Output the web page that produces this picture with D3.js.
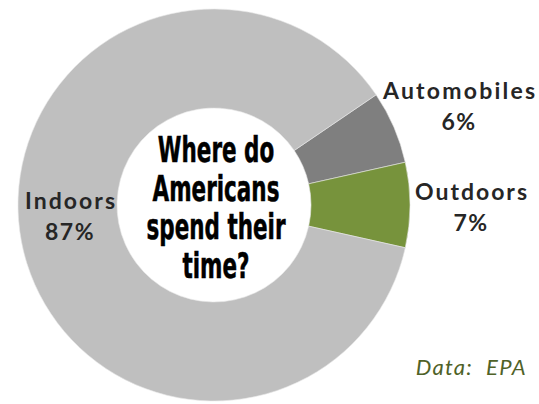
<!DOCTYPE html>
<html lang="en">
<head>
	<meta charset="utf-8"/>
	<title>Where do Americans spend their time?</title>
	<script src="https://d3js.org/d3.v7.min.js" charset="utf-8"></script>
	<style>
		body { margin: 0; background: #fff; }
		.label { font-family: Lato, "Open Sans", sans-serif; font-weight: 700; fill: #262626; }
		.title { font-family: "Liberation Sans Narrow", "DejaVu Sans Condensed", sans-serif; font-weight: 700; fill: #000; stroke: #000; stroke-width: 0.5; }
		.source { font-family: Lato, "Open Sans", sans-serif; font-style: italic; fill: #4f6228; }
	</style>
</head>
<body>
<div id="chart"></div>

<script>
	// data
	var categories = ["Automobiles", "Outdoors", "Indoors"];
	var shares = [6, 7, 87];
	var colors = ["#7f7f7f", "#77933c", "#bfbfbf"];
	var titleLines = ["Where do", "Americans", "spend their", "time?"];

	var width = 539,
		height = 404,
		cx = 214, cy = 205,
		outer = 196, inner = 97;

	var svg = d3.select("#chart").append("svg")
		.attr("width", width)
		.attr("height", height);

	var g = svg.append("g")
		.attr("transform", "translate(" + cx + "," + cy + ")");

	// automobiles starts ~34 degrees above the horizontal
	var start = (90 - 34.2) * Math.PI / 180;

	var pie = d3.pie()
		.sort(null)
		.startAngle(start)
		.endAngle(start + 2 * Math.PI);

	var arc = d3.arc()
		.innerRadius(inner)
		.outerRadius(outer);

	g.selectAll("path")
		.data(pie(shares))
		.enter().append("path")
		.attr("d", arc)
		.attr("fill", function(d, i) { return colors[i]; })
		.attr("stroke", "#e8e8e8")
		.attr("stroke-width", 0.6);

	// slice labels (position + first line width)
	var labelPos = [[459, 99, 152], [471, 200, 112], [70, 209, 90]];
	var lbl = svg.selectAll(".label")
		.data(categories)
		.enter().append("text")
		.attr("class", "label")
		.attr("text-anchor", "middle")
		.attr("font-size", 23)
		.attr("x", function(d, i) { return labelPos[i][0]; })
		.attr("y", function(d, i) { return labelPos[i][1]; });

	lbl.append("tspan")
		.attr("textLength", function(d, i) { return labelPos[i][2]; })
		.attr("lengthAdjust", "spacing")
		.text(function(d) { return d; });
	lbl.append("tspan")
		.attr("x", function(d, i) { return labelPos[i][0]; })
		.attr("dy", 31)
		.attr("letter-spacing", 1.5)
		.text(function(d, i) { return shares[i] + "%"; });

	// center title, squeezed horizontally
	var t = svg.append("g")
		.attr("transform", "translate(216,0)");
	var tt = t.append("g");
	tt.selectAll("text")
		.data(titleLines)
		.enter().append("text")
		.attr("class", "title")
		.attr("text-anchor", "middle")
		.attr("font-size", 35)
		.attr("x", 0)
		.attr("y", function(d, i) { return 162 + i * 38.7; })
		.text(function(d) { return d; });

	var w = tt.selectAll("text").nodes()[2].getComputedTextLength();
	tt.attr("transform", "scale(" + (139 / w) + ",1)");

	svg.append("text")
		.attr("class", "source")
		.attr("x", 527)
		.attr("y", 375)
		.attr("text-anchor", "end")
		.attr("font-size", 22)
		.attr("letter-spacing", 1.3)
		.attr("xml:space", "preserve")
		.style("white-space", "pre")
		.text("Data:  EPA");
</script>
</body>
</html>
